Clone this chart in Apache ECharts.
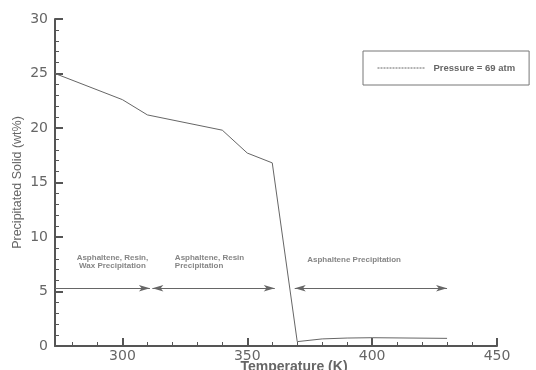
<!DOCTYPE html>
<html>
<head>
<meta charset="utf-8">
<script src="https://cdn.jsdelivr.net/npm/echarts@6/dist/echarts.min.js"></script>
<style>
  html, body { margin: 0; padding: 0; background: #fff; }
  #chart { width: 536px; height: 370px; }
</style>
</head>
<body>
<div id="chart"></div>
<script>
// Precipitated solid vs temperature at 69 atm
const temperatures = [273, 300, 310, 340, 350, 360, 370, 380, 390, 400, 430];
const solids = [25.0, 22.6, 21.2, 19.8, 17.7, 16.8, 0.4, 0.65, 0.73, 0.76, 0.7];

// Axis ticks
const xLabelValues = [300, 350, 400, 450];
const xMinorValues = [280, 290, 310, 320, 330, 340, 360, 370, 380, 390, 410, 420, 430, 440];

// Precipitation regions (arrow spans at a fixed level) and their captions
const arrowFrom = [273, 312, 369];
const arrowTo = [311, 361, 430];
const arrowLevel = 5.3;
const arrowStartHead = ['none', 'arrow', 'arrow'];
const regionLabels = ['Asphaltene, Resin,\nWax Precipitation', 'Asphaltene, Resin\nPrecipitation', 'Asphaltene Precipitation'];
const labelT = [296, 321, 374];
const labelY = [7.75, 7.75, 7.95];
const labelAlign = ['center', 'left', 'left'];

const seriesName = 'Pressure = 69 atm';

const axisColor = '#555';
const textColor = '#666';

const chart = echarts.init(document.getElementById('chart'));

const arrowData = arrowFrom.map((f, i) => [
  { coord: [f, arrowLevel], symbol: arrowStartHead[i] },
  { coord: [arrowTo[i], arrowLevel], symbol: 'arrow' }
]);

const labelData = labelT.map((t, i) => ({
  value: [t, labelY[i]],
  label: { align: labelAlign[i], formatter: regionLabels[i] }
}));

chart.setOption({
  animation: false,
  backgroundColor: '#fff',
  grid: { left: 55, right: 39, top: 19, bottom: 24, containLabel: false, outerBoundsMode: 'none' },
  legend: {
    show: true,
    data: [seriesName],
    left: 363,
    top: 51,
    padding: [12, 14, 12, 14],
    borderColor: '#777',
    borderWidth: 1,
    itemWidth: 48,
    itemHeight: 10,
    itemGap: 0,
    itemStyle: { opacity: 0 },
    lineStyle: { type: [2, 1], width: 1, color: '#666' },
    textStyle: {
      fontFamily: 'Liberation Sans, Arial, sans-serif',
      fontSize: 9.5,
      fontWeight: 'bold',
      color: textColor,
      padding: [0, 0, 0, 3]
    }
  },
  xAxis: [
    {
      type: 'value',
      min: 273,
      max: 450,
      name: 'Temperature (K)',
      nameLocation: 'middle',
      nameGap: 14,
      nameMoveOverlap: false,
      nameTextStyle: {
        fontFamily: 'Liberation Sans, Arial, sans-serif',
        fontSize: 14,
        fontWeight: 'bold',
        color: textColor,
        padding: [0, 0, 0, 36]
      },
      splitLine: { show: false },
      axisLine: { show: true, lineStyle: { color: axisColor, width: 2 } },
      axisTick: { show: true, inside: true, length: 8, customValues: xLabelValues, lineStyle: { color: axisColor, width: 2 } },
      axisLabel: {
        customValues: xLabelValues,
        margin: 3,
        fontFamily: 'DejaVu Sans, sans-serif',
        fontSize: 14,
        color: textColor
      }
    },
    {
      type: 'value',
      min: 273,
      max: 450,
      position: 'bottom',
      splitLine: { show: false },
      axisLine: { show: false },
      axisTick: { show: true, inside: true, length: 4, customValues: xMinorValues, lineStyle: { color: axisColor, width: 1 } },
      axisLabel: { show: false }
    }
  ],
  yAxis: {
    type: 'value',
    min: 0,
    max: 30,
    interval: 5,
    name: 'Precipitated Solid (wt%)',
    nameLocation: 'middle',
    nameGap: 31,
    nameMoveOverlap: false,
    nameTextStyle: {
      fontFamily: 'Liberation Sans, Arial, sans-serif',
      fontSize: 12.5,
      color: textColor
    },
    splitLine: { show: false },
    axisLine: { show: true, lineStyle: { color: axisColor, width: 2 } },
    axisTick: { show: true, inside: true, length: 8, lineStyle: { color: axisColor, width: 2 } },
    minorTick: { show: true, splitNumber: 5, length: 4, lineStyle: { color: axisColor, width: 1 } },
    axisLabel: {
      margin: 7,
      fontFamily: 'DejaVu Sans, sans-serif',
      fontSize: 14,
      color: textColor
    }
  },
  series: [
    {
      name: seriesName,
      type: 'line',
      data: temperatures.map((t, i) => [t, solids[i]]),
      symbol: 'none',
      lineStyle: { color: '#666', width: 1 },
      itemStyle: { color: '#666' },
      markLine: {
        silent: true,
        symbolSize: [5, 11],
        label: { show: false },
        lineStyle: { color: '#666', width: 1, type: 'solid' },
        itemStyle: { color: '#777' },
        data: arrowData
      }
    },
    {
      name: 'regions',
      type: 'scatter',
      symbolSize: 0,
      silent: true,
      data: labelData,
      label: {
        show: true,
        position: 'inside',
        fontFamily: 'Liberation Sans, Arial, sans-serif',
        fontSize: 8,
        fontWeight: 'bold',
        lineHeight: 8,
        color: textColor
      }
    }
  ]
});
</script>
</body>
</html>
